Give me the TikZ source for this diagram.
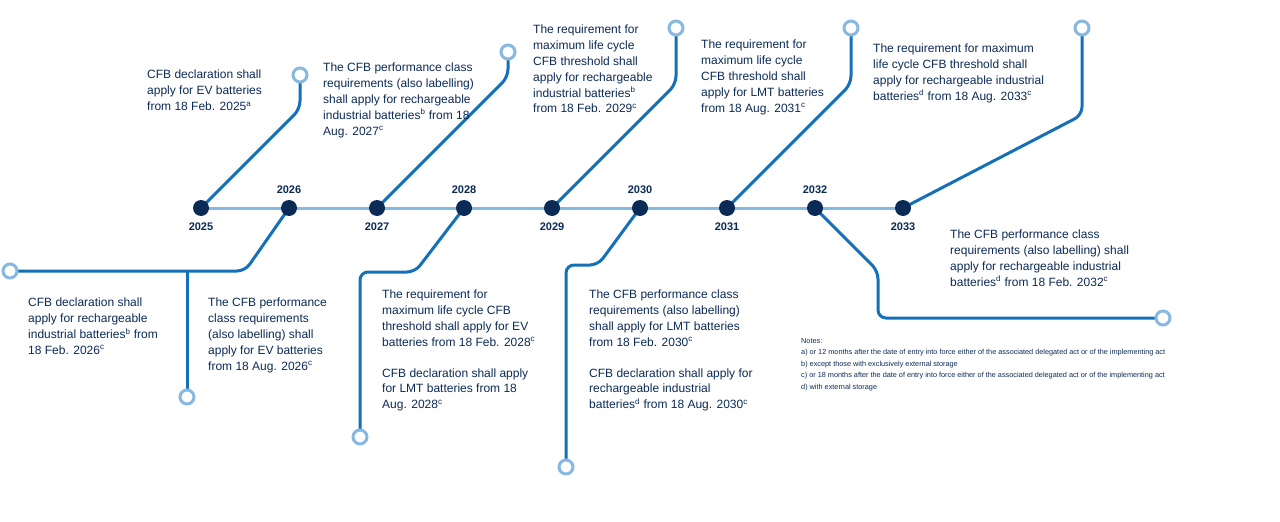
\documentclass[tikz,border=0pt]{standalone}
\usepackage{fontspec}
\setmainfont{Liberation Sans}
\begin{document}
\definecolor{navy}{HTML}{0B2A55}
\definecolor{mid}{HTML}{1470B8}
\definecolor{light}{HTML}{86B8E2}
\begin{tikzpicture}[x=1pt,y=-1pt,
  br/.style={draw=mid,line width=3pt,rounded corners=8pt},
  endc/.style={circle,draw=light,line width=3pt,fill=white,minimum size=14pt,inner sep=0},
  dot/.style={circle,fill=navy,minimum size=16pt,inner sep=0},
  txt/.style={anchor=north west,align=left,inner sep=0,text=navy,font=\fontsize{12}{15.8}\selectfont},
  yr/.style={text=navy,font=\bfseries\fontsize{11}{13}\selectfont,inner sep=0}]
\useasboundingbox (0,0) rectangle (1280,522);
\foreach \n/\x in {a/201,b/289,c/377,d/464,e/552,f/640,g/727,h/815,i/903}
  \coordinate (\n) at (\x,208);
\draw[light,line width=3pt] (a) -- (i);
% end circles coords
\coordinate (ea) at (300,75);
\coordinate (eb1) at (10,271);
\coordinate (eb2) at (187,397);
\coordinate (ec) at (508,52);
\coordinate (ed) at (360,437);
\coordinate (ee) at (676,28);
\coordinate (ef) at (566,467);
\coordinate (eg) at (851,28);
\coordinate (eh) at (1163,318);
\coordinate (ei) at (1082,28);
\draw[br] (a) -- (300,109) -- (ea);
\draw[br] (b) -- (245,271) -- (eb1);
\draw[br] (187,271) -- (eb2);
\draw[br] (c) -- (508,77) -- (ec);
\draw[br] (d) -- (415,272) -- (360,272) -- (ed);
\draw[br] (e) -- (676,84) -- (ee);
\draw[br] (f) -- (598,265) -- (566,265) -- (ef);
\draw[br] (g) -- (851,84) -- (eg);
\draw[br] (h) -- (878,271) -- (878,318) -- (eh);
\draw[br] (i) -- (1082,115) -- (ei);
\foreach \c in {ea,eb1,eb2,ec,ed,ee,ef,eg,eh,ei} \node[endc] (n\c) at (\c) {};
\foreach \n in {a,b,c,d,e,f,g,h,i} \node[dot] (d\n) at (\n) {};
\node[yr] (y25) at (201,227) {2025};
\node[yr] (y26) at (289,190) {2026};
\node[yr] (y27) at (377,227) {2027};
\node[yr] (y28) at (464,190) {2028};
\node[yr] (y29) at (552,227) {2029};
\node[yr] (y30) at (640,190) {2030};
\node[yr] (y31) at (727,227) {2031};
\node[yr] (y32) at (815,190) {2032};
\node[yr] (y33) at (903,227) {2033};
\node[txt] (t25) at (147,70) {CFB declaration shall\\apply for EV batteries\\from 18 Feb. 2025\textsuperscript{a}};
\node[txt] (t27) at (323,63) {The CFB performance class\\requirements (also labelling)\\shall apply for rechargeable\\industrial batteries\textsuperscript{b} from 18\\Aug. 2027\textsuperscript{c}};
\node[txt] (t29) at (533,25) {The requirement for\\maximum life cycle\\CFB threshold shall\\apply for rechargeable\\industrial batteries\textsuperscript{b}\\from 18 Feb. 2029\textsuperscript{c}};
\node[txt] (t31) at (701,40) {The requirement for\\maximum life cycle\\CFB threshold shall\\apply for LMT batteries\\from 18 Aug. 2031\textsuperscript{c}};
\node[txt] (t33) at (873,44) {The requirement for maximum\\life cycle CFB threshold shall\\apply for rechargeable industrial\\batteries\textsuperscript{d} from 18 Aug. 2033\textsuperscript{c}};
\node[txt] (t26a) at (28,298) {CFB declaration shall\\apply for rechargeable\\industrial batteries\textsuperscript{b} from\\18 Feb. 2026\textsuperscript{c}};
\node[txt] (t26b) at (208,298) {The CFB performance\\class requirements\\(also labelling) shall\\apply for EV batteries\\from 18 Aug. 2026\textsuperscript{c}};
\node[txt] (t28) at (382,290) {The requirement for\\maximum life cycle CFB\\threshold shall apply for EV\\batteries from 18 Feb. 2028\textsuperscript{c}\\[15pt]CFB declaration shall apply\\for LMT batteries from 18\\Aug. 2028\textsuperscript{c}};
\node[txt] (t30) at (589,290) {The CFB performance class\\requirements (also labelling)\\shall apply for LMT batteries\\from 18 Feb. 2030\textsuperscript{c}\\[15pt]CFB declaration shall apply for\\rechargeable industrial\\batteries\textsuperscript{d} from 18 Aug. 2030\textsuperscript{c}};
\node[txt] (t32) at (950,230) {The CFB performance class\\requirements (also labelling) shall\\apply for rechargeable industrial\\batteries\textsuperscript{d} from 18 Feb. 2032\textsuperscript{c}};
\node[txt,font=\fontsize{7.3}{11.5}\selectfont] (notes) at (801,338) {Notes:\\a) or 12 months after the date of entry into force either of the associated delegated act or of the implementing act\\b) except those with exclusively external storage\\c) or 18 months after the date of entry into force either of the associated delegated act or of the implementing act\\d) with external storage};
\end{tikzpicture}
\end{document}
